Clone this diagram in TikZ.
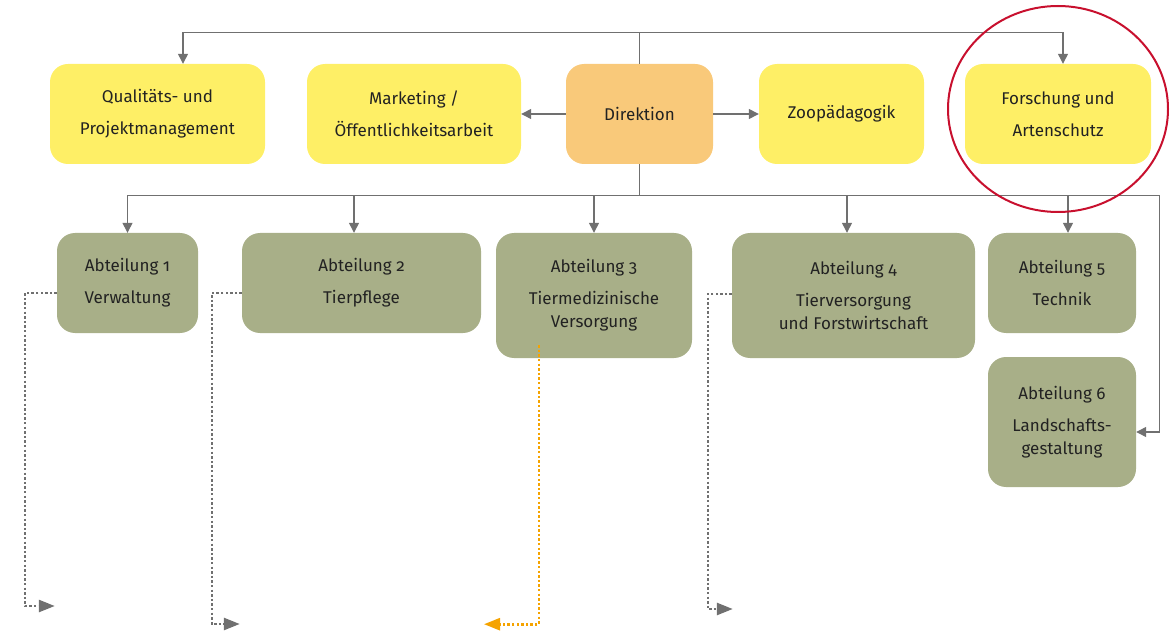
\documentclass[tikz,border=0pt]{standalone}
\usepackage{fontspec}
\setmainfont[Numbers=OldStyle]{Fira Sans}
\usetikzlibrary{arrows.meta,calc}
\definecolor{yboxc}{HTML}{FEEF66}
\definecolor{oboxc}{HTML}{F9C97A}
\definecolor{gboxc}{HTML}{A8AF88}
\definecolor{lgray}{HTML}{707070}
\definecolor{txt}{HTML}{222222}
\definecolor{dorange}{HTML}{F5A300}
\definecolor{ered}{HTML}{C8102E}
\begin{document}
\begin{tikzpicture}[x=1pt,y=-1pt,
  box/.style={rounded corners=18pt, align=center, text=txt, font=\fontsize{17}{23}\selectfont, inner sep=0pt},
  topbox/.style={box, fill=yboxc, minimum height=100pt},
  dept/.style={box, fill=gboxc},
  conn/.style={draw=lgray, line width=1.3pt, -{Triangle[length=10pt,width=10pt]}},
  dotconn/.style={draw=lgray, line width=2.6pt, dash pattern=on 2.4pt off 2.2pt, -{Triangle[length=16pt,width=12pt]}},
  orconn/.style={dotconn, draw=dorange}
]
\useasboundingbox (0,0) rectangle (1173,631);

% top row
\node[topbox, minimum width=215pt] (Q) at (157.5,114) {Qualitäts- und\\[9pt]Projektmanagement};
\node[topbox, minimum width=214pt] (M) at (414,114) {Marketing /\\[9pt]Öffentlichkeitsarbeit};
\node[topbox, fill=oboxc, minimum width=147pt] (D) at (639.5,114) {Direktion};
\node[topbox, minimum width=165pt] (Z) at (841.5,114) {Zoopädagogik};
\node[topbox, minimum width=186pt] (F) at (1058,114) {Forschung und\\[9pt]Artenschutz};

% departments
\node[dept, minimum width=141pt, minimum height=100pt] (A1) at (127.5,283) {Abteilung 1\\[9pt]Verwaltung};
\node[dept, minimum width=239pt, minimum height=100pt] (A2) at (361.5,283) {Abteilung 2\\[9pt]Tierpflege};
\node[dept, minimum width=196pt, minimum height=125pt] (A3) at (594,295.5) {Abteilung 3\\[9pt]Tiermedizinische\\Versorgung};
\node[dept, minimum width=243pt, minimum height=125pt] (A4) at (853.5,295.5) {Abteilung 4\\[9pt]Tierversorgung\\und Forstwirtschaft};
\node[dept, minimum width=148pt, minimum height=100pt] (A5) at (1062,283) {Abteilung 5\\[9pt]Technik};
\node[dept, minimum width=148pt, minimum height=130pt] (A6) at (1062,422) {Abteilung 6\\[9pt]Landschafts-\\gestaltung};

% coordinates
\coordinate (qin) at ($(Q.north)+(25.5,0)$);
\coordinate (fin) at ($(F.north)+(5,0)$);
\coordinate (bus) at ($(D.south)+(0,31)$);
\coordinate (a2in) at ($(A2.north)+(-7.5,0)$);
\coordinate (a4in) at ($(A4.north)+(-6.5,0)$);
\coordinate (a5in) at ($(A5.north)+(6,0)$);
\coordinate (a6in) at ($(A6.east)+(0,10)$);

% solid connectors
\draw[conn] (D.north) -- ++(0,-31) -| (qin);
\draw[conn] (D.north) -- ++(0,-31) -| (fin);
\draw[conn] (D.west) -- (M.east);
\draw[conn] (D.east) -- (Z.west);
\draw[draw=lgray, line width=1.3pt] (D.south) -- (bus);
\draw[conn] (bus) -| (A1.north);
\draw[conn] (bus) -| (a2in);
\draw[conn] (bus) -| (A3.north);
\draw[conn] (bus) -| (a4in);
\draw[conn] (bus) -| (a5in);
\draw[conn] (bus) -| ($(a6in)+(23,0)$) -- (a6in);

% dotted connectors
\draw[dotconn] ($(A1.west)+(0,10)$) -- ++(-32,0) -- ++(0,313) -- ++(30,0);
\draw[dotconn] ($(A2.west)+(0,10)$) -- ++(-30,0) -- ++(0,331) -- ++(28,0);
\draw[orconn] ($(A3.south)+(-55,-13)$) -- ++(0,279) -- ++(-55,0);
\draw[dotconn] ($(A4.west)+(0,-1.5)$) -- ++(-24,0) -- ++(0,315) -- ++(25,0);

% highlight
\draw[ered, line width=2pt] (1058,109) ellipse [x radius=110, y radius=103];
\end{tikzpicture}
\end{document}
